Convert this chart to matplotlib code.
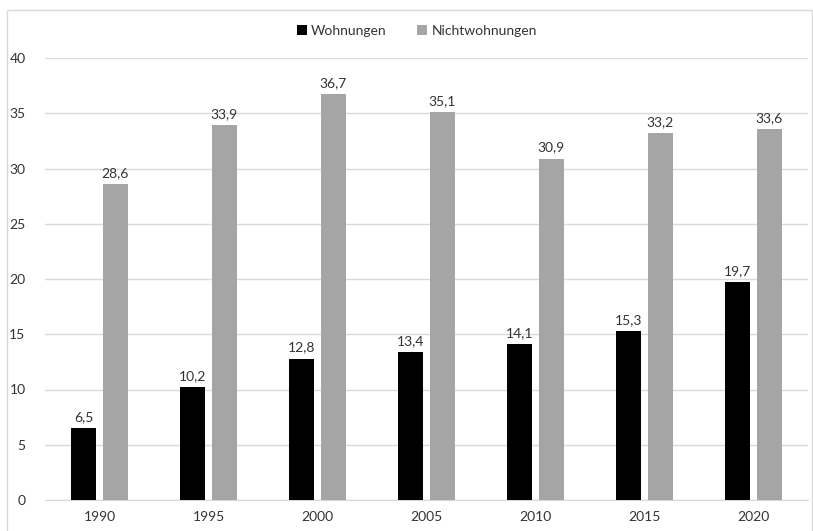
import numpy as np
import matplotlib.pyplot as plt
from matplotlib.patches import Rectangle

years = ["1990", "1995", "2000", "2005", "2010", "2015", "2020"]
wohnungen = [6.5, 10.2, 12.8, 13.4, 14.1, 15.3, 19.7]
nichtwohnungen = [28.6, 33.9, 36.7, 35.1, 30.9, 33.2, 33.6]

plt.rcParams['font.family'] = ['Lato', 'DejaVu Sans']
txt = '#333333'

fig = plt.figure(figsize=(8.13, 5.31), dpi=100)
fig.patches.append(Rectangle((7/813, -0.01), 805/813, 1 - 10/531 + 0.01,
                             transform=fig.transFigure, fill=False,
                             edgecolor='#D9D9D9', linewidth=1))
ax = fig.add_axes([45/813, 31/531, 763/813, 442/531])

x = np.arange(len(years))
w = 0.23
off = 0.143
b1 = ax.bar(x - off, wohnungen, w, color='black', label='Wohnungen', zorder=3)
b2 = ax.bar(x + off, nichtwohnungen, w, color='#A5A5A5', label='Nichtwohnungen', zorder=3)

for bars, vals in ((b1, wohnungen), (b2, nichtwohnungen)):
    for r, v in zip(bars, vals):
        ax.text(r.get_x() + r.get_width() / 2, v + 0.45, f"{v:.1f}".replace('.', ','),
                ha='center', va='bottom', fontsize=10, color=txt)

ax.set_xlim(-0.5, len(years) - 0.5)
ax.set_ylim(0, 40)
ax.set_yticks(range(0, 41, 5))
ax.set_xticks(x)
ax.set_xticklabels(years)
ax.grid(axis='y', color='#D9D9D9', linewidth=1, zorder=0)
for s in ['top', 'right', 'left']:
    ax.spines[s].set_visible(False)
ax.spines['bottom'].set_color('#D9D9D9')
ax.tick_params(axis='both', length=0, labelsize=10, labelcolor=txt)
ax.tick_params(axis='x', pad=8)
ax.tick_params(axis='y', pad=14)

ax.legend(loc='center', bbox_to_anchor=(417/813, 1 - 31/531), bbox_transform=fig.transFigure,
          ncol=2, frameon=False, fontsize=10, handlelength=0.7, handleheight=0.7,
          handletextpad=0.3, columnspacing=2.2, labelcolor=txt)

fig.savefig('out.png', dpi=100)
